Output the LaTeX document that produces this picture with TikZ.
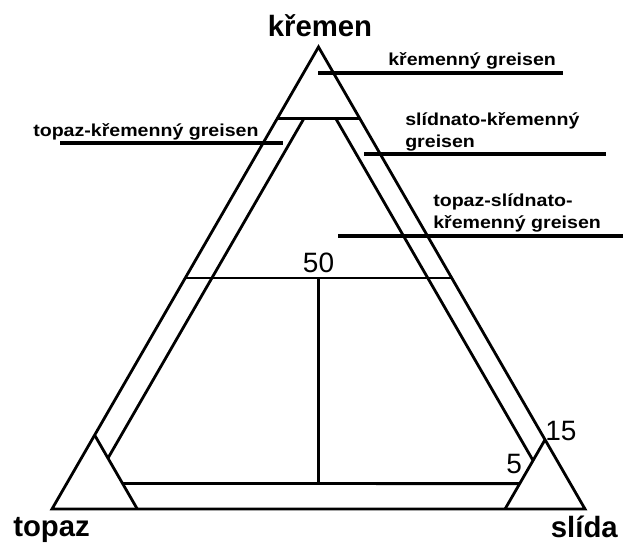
\documentclass[tikz,border=0pt]{standalone}
\usepackage{fontspec}
\setmainfont{Liberation Sans}
\newfontfamily\lblfont{Liberation Sans}[FakeStretch=1.13]
\begin{document}
\begin{tikzpicture}[x=0.75pt,y=-0.75pt,
  tri/.style={line width=2.1pt},
  callout/.style={line width=2.6pt},
  big/.style={font=\fontsize{22}{26}\selectfont\bfseries, inner sep=0},
  lbl/.style={font=\lblfont\fontsize{13}{16}\selectfont\bfseries, inner sep=0, anchor=base west},
  num/.style={font=\fontsize{21}{25}\selectfont, inner sep=0}]
\useasboundingbox[fill=white] (0,0) rectangle (623,542);
% corners
\coordinate (T) at (52,509);
\coordinate (M) at (585,509);
\coordinate (Q) at (318.5,47);
% outer triangle
\draw[tri] (T) -- (M) -- (Q) -- cycle;
% 85 % quartz line
\coordinate (q85l) at (barycentric cs:T=0.155,M=0,Q=0.845);
\coordinate (q85r) at (barycentric cs:T=0,M=0.155,Q=0.845);
\draw[tri] (q85l) -- (q85r);
% 50 % quartz line
\coordinate (q50l) at (barycentric cs:T=0.5,M=0,Q=0.5);
\coordinate (q50r) at (barycentric cs:T=0,M=0.5,Q=0.5);
\coordinate (q50c) at (barycentric cs:T=0.25,M=0.25,Q=0.5);
\draw[tri] (q50l) -- (q50r);
% corner triangles
\coordinate (tb) at (barycentric cs:T=0.84,M=0.16,Q=0);
\coordinate (ta) at (barycentric cs:T=0.84,M=0,Q=0.16);
\draw[tri] (tb) -- (ta);
\coordinate (mb) at (barycentric cs:T=0.15,M=0.85,Q=0);
\coordinate (ma) at (barycentric cs:T=0,M=0.85,Q=0.15);
\draw[tri] (mb) -- (ma);
% 5 % quartz line
\coordinate (q5l) at (barycentric cs:T=0.84,M=0.105,Q=0.055);
\coordinate (q5r) at (barycentric cs:T=0.095,M=0.85,Q=0.055);
\coordinate (q5c) at (barycentric cs:T=0.4725,M=0.4725,Q=0.055);
\draw[tri] (q5l) -- (q5r);
% 5 % mica line
\coordinate (m5t) at (barycentric cs:T=0.105,M=0.05,Q=0.845);
\coordinate (m5b) at (barycentric cs:T=0.84,M=0.05,Q=0.11);
\draw[tri] (m5t) -- (m5b);
% 5 % topaz line
\coordinate (t5t) at (barycentric cs:T=0.045,M=0.11,Q=0.845);
\coordinate (t5b) at (barycentric cs:T=0.045,M=0.85,Q=0.105);
\draw[tri] (t5t) -- (t5b);
% vertical divider
\draw[tri] (q50c) -- (q5c);
% callout lines
\coordinate (c1a) at (318,73);  \coordinate (c1b) at (563,73);
\coordinate (c2a) at (60,143);  \coordinate (c2b) at (283,143);
\coordinate (c3a) at (364,154); \coordinate (c3b) at (606,154);
\coordinate (c4a) at (338,236); \coordinate (c4b) at (623,236);
\draw[callout] (c1a) -- (c1b);
\draw[callout] (c2a) -- (c2b);
\draw[callout] (c3a) -- (c3b);
\draw[callout] (c4a) -- (c4b);
% corner labels
\node[big, anchor=base] (kr) at (320,37) {křemen};
\node[big, anchor=base west] (tp) at (13,536) {topaz};
\node[big, anchor=base east] (sl) at (618,537) {slída};
% field labels
\node[lbl] (l1) at (388,65) {křemenný greisen};
\node[lbl] (l2) at (33,136) {topaz-křemenný greisen};
\node[lbl] (l3a) at (405,125) {slídnato-křemenný};
\node[lbl] (l3b) at (405,147) {greisen};
\node[lbl] (l4a) at (433,206) {topaz-slídnato-};
\node[lbl] (l4b) at (433,228) {křemenný greisen};
% numbers
\node[num, anchor=base] (n50) at (318.5,272) {50};
\node[num, anchor=base west] (n15) at (545,440) {15};
\node[num, anchor=base west] (n5) at (506,473) {5};
\end{tikzpicture}
\end{document}
